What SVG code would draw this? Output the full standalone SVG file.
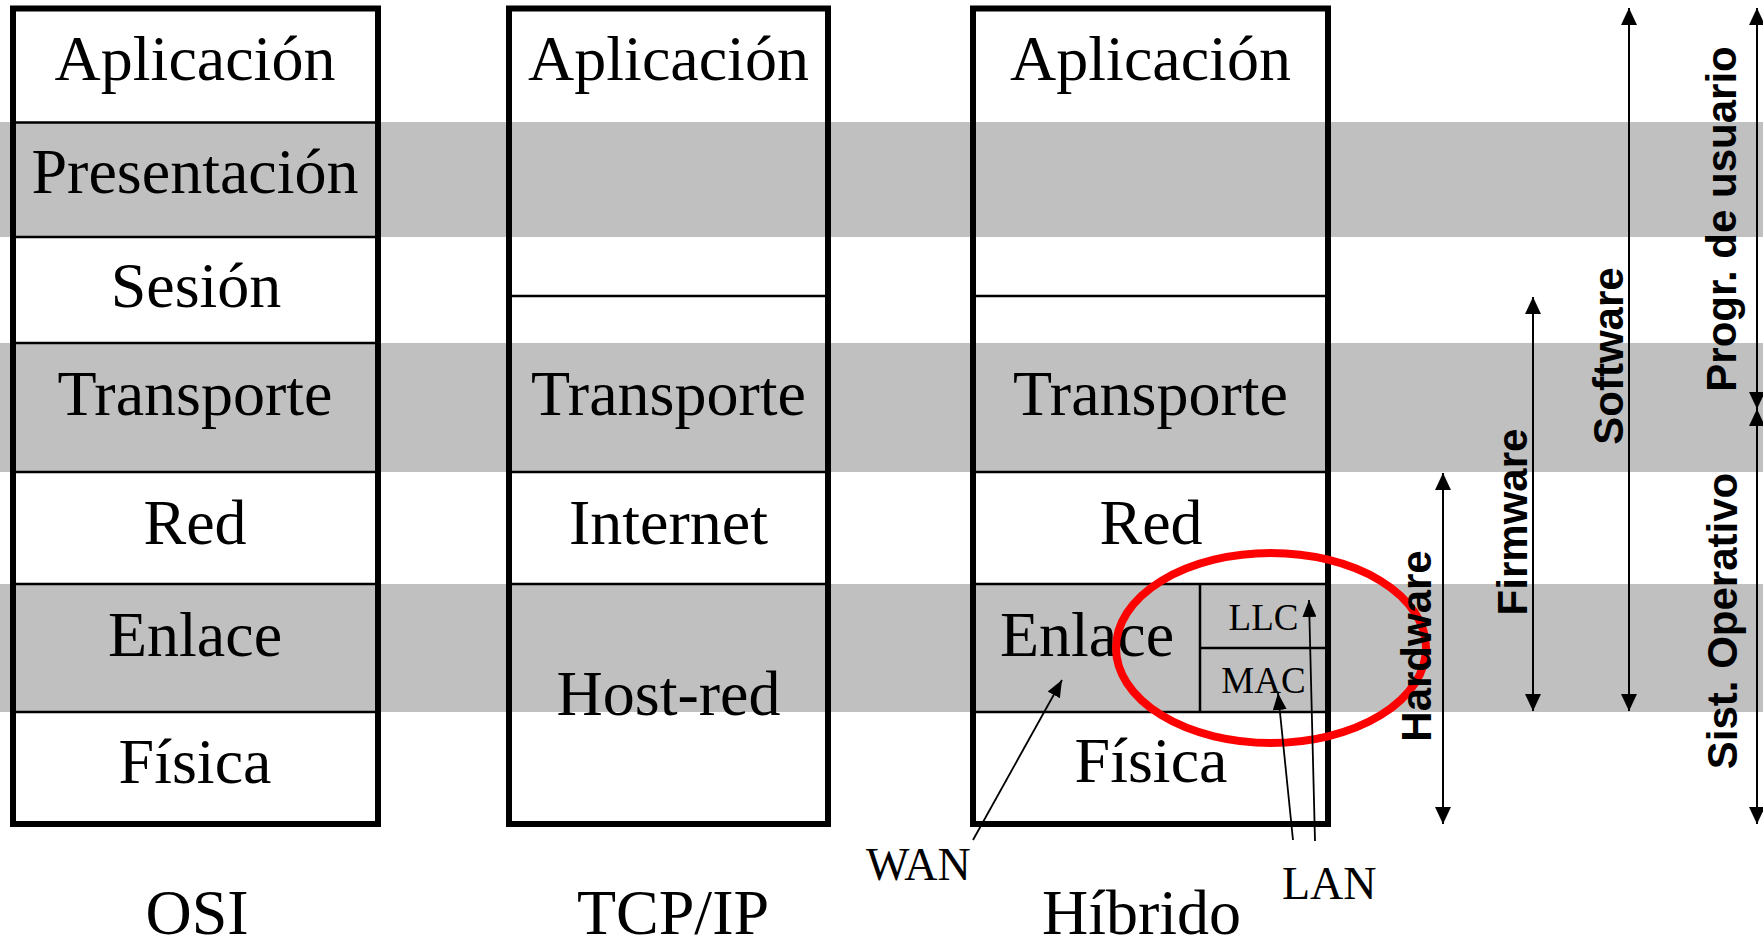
<svg xmlns="http://www.w3.org/2000/svg" width="1763" height="949" viewBox="0 0 1763 949">
<style>
.band{fill:#c0c0c0}
.frame{fill:none;stroke:#000;stroke-width:6}
.sep{stroke:#000;stroke-width:2.5}
.t{font-family:"Liberation Serif","Times New Roman",serif;font-size:64px;fill:#000;text-anchor:middle}
.s{font-family:"Liberation Serif","Times New Roman",serif;font-size:37px;fill:#000;text-anchor:middle}
.m{font-family:"Liberation Serif","Times New Roman",serif;font-size:46px;fill:#000}
.v{font-family:"Liberation Sans",Arial,sans-serif;font-size:42px;font-weight:bold;fill:#000;text-anchor:middle}
.ar{stroke:#000;stroke-width:2;fill:none}
.thin{stroke:#000;stroke-width:1.8;fill:none}
</style>
<defs>
<marker id="ah" viewBox="0 0 17 16" refX="17" refY="8" markerWidth="17" markerHeight="16" markerUnits="userSpaceOnUse" orient="auto-start-reverse"><path d="M0,0 L17,8 L0,16 z" fill="#000"/></marker>
<marker id="sh" viewBox="0 0 17 14" refX="17" refY="7" markerWidth="17" markerHeight="14" markerUnits="userSpaceOnUse" orient="auto"><path d="M0,0 L17,7 L0,14 z" fill="#000"/></marker>
</defs>
<rect width="1763" height="949" fill="#fff"/>
<g id="bands">
<rect class="band" x="0" y="122" width="1763" height="115"/>
<rect class="band" x="0" y="343" width="1763" height="129"/>
<rect class="band" x="0" y="584" width="1763" height="128"/>
</g>
<g id="osi">
<line class="sep" x1="13" y1="122.5" x2="378" y2="122.5"/>
<line class="sep" x1="13" y1="237" x2="378" y2="237"/>
<line class="sep" x1="13" y1="343" x2="378" y2="343"/>
<line class="sep" x1="13" y1="472" x2="378" y2="472"/>
<line class="sep" x1="13" y1="584" x2="378" y2="584"/>
<line class="sep" x1="13" y1="712" x2="378" y2="712"/>
<rect class="frame" x="13" y="8.5" width="365" height="815.5"/>
<text class="t" x="195" y="80">Aplicación</text>
<text class="t" x="195" y="193">Presentación</text>
<text class="t" x="196" y="307">Sesión</text>
<text class="t" x="195" y="415">Transporte</text>
<text class="t" x="195" y="544">Red</text>
<text class="t" x="195" y="656">Enlace</text>
<text class="t" x="195" y="783">Física</text>
<text class="t" x="197" y="934">OSI</text>
</g>
<g id="tcpip">
<line class="sep" x1="509" y1="296" x2="828" y2="296"/>
<line class="sep" x1="509" y1="472" x2="828" y2="472"/>
<line class="sep" x1="509" y1="584" x2="828" y2="584"/>
<rect class="frame" x="509" y="8.5" width="319" height="815.5"/>
<text class="t" x="668.5" y="80">Aplicación</text>
<text class="t" x="668.5" y="415">Transporte</text>
<text class="t" x="668.5" y="544">Internet</text>
<text class="t" x="668.5" y="715">Host-red</text>
<text class="t" x="673" y="934">TCP/IP</text>
</g>
<g id="hibrido">
<line class="sep" x1="973" y1="296" x2="1328" y2="296"/>
<line class="sep" x1="973" y1="472" x2="1328" y2="472"/>
<line class="sep" x1="973" y1="584" x2="1328" y2="584"/>
<line class="sep" x1="973" y1="712" x2="1328" y2="712"/>
<line class="sep" x1="1200" y1="584" x2="1200" y2="712"/>
<line class="sep" x1="1200" y1="648" x2="1328" y2="648"/>
<rect class="frame" x="973" y="8.5" width="355" height="815.5"/>
<text class="t" x="1150.5" y="80">Aplicación</text>
<text class="t" x="1150.5" y="415">Transporte</text>
<text class="t" x="1151" y="544">Red</text>
<text class="t" x="1087" y="656">Enlace</text>
<text class="t" x="1151" y="782">Física</text>
<text class="s" x="1263.5" y="630">LLC</text>
<text class="s" x="1263.5" y="693">MAC</text>
<text class="t" x="1141.5" y="934">Híbrido</text>
</g>
<g id="highlight">
<ellipse cx="1271" cy="648" rx="155" ry="95" fill="none" stroke="#ff0000" stroke-width="8"/>
</g>
<g id="connectors">
<line class="thin" x1="973" y1="840" x2="1062" y2="680" marker-end="url(#sh)"/>
<line class="thin" x1="1293" y1="840" x2="1278" y2="693" marker-end="url(#sh)"/>
<line class="thin" x1="1315" y1="841" x2="1309" y2="600" marker-end="url(#sh)"/>
<line class="ar" x1="1443" y1="473" x2="1443" y2="824" marker-start="url(#ah)" marker-end="url(#ah)"/>
<line class="ar" x1="1533" y1="297" x2="1533" y2="711" marker-start="url(#ah)" marker-end="url(#ah)"/>
<line class="ar" x1="1629" y1="8" x2="1629" y2="711" marker-start="url(#ah)" marker-end="url(#ah)"/>
<line class="ar" x1="1757" y1="8" x2="1757" y2="409" marker-start="url(#ah)" marker-end="url(#ah)"/>
<line class="ar" x1="1757" y1="409" x2="1757" y2="824" marker-start="url(#ah)" marker-end="url(#ah)"/>
</g>
<g id="wan"><text class="m" x="866" y="880">WAN</text></g>
<g id="lan"><text class="m" x="1282" y="899">LAN</text></g>
<g id="hardware"><text class="v" transform="translate(1431,646) rotate(-90)">Hardware</text></g>
<g id="firmware"><text class="v" transform="translate(1527,522) rotate(-90)">Firmware</text></g>
<g id="software"><text class="v" transform="translate(1623,356) rotate(-90)">Software</text></g>
<g id="usuario"><text class="v" transform="translate(1736,219) rotate(-90)">Progr. de usuario</text></g>
<g id="so"><text class="v" transform="translate(1737,621) rotate(-90)">Sist. Operativo</text></g>
</svg>
